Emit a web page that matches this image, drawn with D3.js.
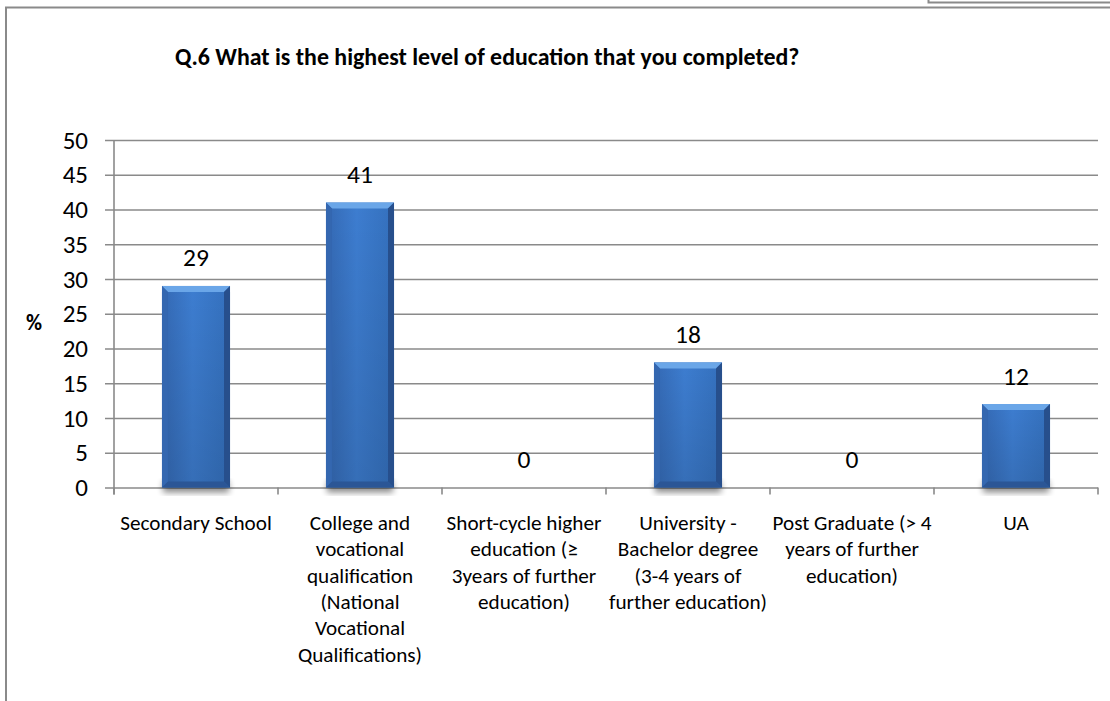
<!DOCTYPE html>
<html>
<head>
<meta charset="utf-8">
<script src="https://cdn.jsdelivr.net/npm/d3@7"></script>
<style>
  body { margin: 0; background: #ffffff; }
  svg text { font-family: Carlito, Calibri, Lato, "Open Sans", sans-serif; fill: #000; }
</style>
</head>
<body>
<svg id="chart" width="1110" height="701"></svg>
<script>
// Survey answers: highest completed level of education (% of respondents)
const chartTitle = "Q.6 What is the highest level of education that you completed?";
const yAxisTitle = "%";
const categories = [
  "Secondary School",
  "College and\nvocational\nqualification\n(National\nVocational\nQualifications)",
  "Short-cycle higher\neducation (\u2265\n3years of further\neducation)",
  "University -\nBachelor degree\n(3-4 years of\nfurther education)",
  "Post Graduate (> 4\nyears of further\neducation)",
  "UA"
];
const percentValues = [29, 41, 0, 18, 0, 12];
const yTickValues = [0, 5, 10, 15, 20, 25, 30, 35, 40, 45, 50];

const svg = d3.select("#chart");
const plot = { left: 114, right: 1098, top: 140, bottom: 487.5 };

const x = d3.scaleBand().domain(d3.range(categories.length)).range([plot.left, plot.right]).padding(0);
const y = d3.scaleLinear().domain([0, 50]).range([plot.bottom, plot.top]);

const gridColor = "#8a8a8a";

// Outer frame (left and top edges) and the neighbouring box above
svg.append("path").attr("d", "M6,701 V7.5 H1110").attr("fill", "none").attr("stroke", gridColor).attr("stroke-width", 2);
svg.append("path").attr("d", "M928.5,0 V2.5 H1110").attr("fill", "none").attr("stroke", gridColor).attr("stroke-width", 2);

// Title
svg.append("text").attr("x", 175).attr("y", 65)
  .attr("font-size", 23.9).attr("font-weight", "bold").text(chartTitle);

// Horizontal gridlines with y axis ticks
const yAxis = d3.axisLeft(y).tickValues(yTickValues).tickSize(plot.right - plot.left + 9).tickPadding(17);
const gy = svg.append("g").attr("transform", `translate(${plot.right},0)`).call(yAxis);
gy.select(".domain").remove();
gy.selectAll(".tick line").attr("stroke", gridColor).attr("stroke-width", 1.6);
gy.selectAll(".tick text").attr("font-size", 25).attr("font-family", "Carlito, Calibri, Lato, sans-serif").attr("fill", "#000");
gy.selectAll(".tick text").attr("x", -(plot.right - plot.left) - 26);

// Vertical axis line
svg.append("line").attr("x1", plot.left).attr("x2", plot.left).attr("y1", plot.top).attr("y2", plot.bottom + 7)
  .attr("stroke", gridColor).attr("stroke-width", 1.6);

// Category boundary ticks along the x axis
const boundaries = d3.range(categories.length + 1).map(i => i < categories.length ? x(i) : plot.right);
svg.append("g").selectAll("line").data(boundaries).join("line")
  .attr("x1", d => d).attr("x2", d => d).attr("y1", plot.bottom).attr("y2", plot.bottom + 7)
  .attr("stroke", gridColor).attr("stroke-width", 1.6);

// Y axis title
svg.append("text").attr("x", 34).attr("y", 330).attr("text-anchor", "middle")
  .attr("font-size", 22).attr("font-weight", "bold").text(yAxisTitle);

// Bar effects
const defs = svg.append("defs");
const grad = defs.append("linearGradient").attr("id", "barFill").attr("x1", 0).attr("x2", 1).attr("y1", 0).attr("y2", 0);
grad.append("stop").attr("offset", 0).attr("stop-color", "#3469b4");
grad.append("stop").attr("offset", 0.45).attr("stop-color", "#3d7dd0");
grad.append("stop").attr("offset", 1).attr("stop-color", "#3470bd");
const vgrad = defs.append("linearGradient").attr("id", "barShade").attr("x1", 0).attr("x2", 0).attr("y1", 0).attr("y2", 1);
vgrad.append("stop").attr("offset", 0).attr("stop-color", "#000").attr("stop-opacity", 0);
vgrad.append("stop").attr("offset", 1).attr("stop-color", "#000").attr("stop-opacity", 0.12);
const blur = defs.append("filter").attr("id", "barShadow").attr("x", "-30%").attr("y", "-30%").attr("width", "160%").attr("height", "160%");
blur.append("feGaussianBlur").attr("stdDeviation", 3.2);

const barWidth = x.bandwidth() * 0.415;
const bevel = 6;

const bars = svg.append("g").selectAll("g").data(percentValues.map((v, i) => ({ v, i })).filter(d => d.v > 0)).join("g")
  .attr("transform", d => `translate(${x(d.i) + (x.bandwidth() - barWidth) / 2},${y(d.v)})`);

bars.append("rect").attr("x", 1).attr("y", d => plot.bottom - y(d.v) - 6).attr("width", barWidth - 2).attr("height", 11)
  .attr("fill", "#000").attr("opacity", 0.45).attr("filter", "url(#barShadow)");

bars.append("rect").attr("width", barWidth).attr("height", d => plot.bottom - y(d.v)).attr("fill", "url(#barFill)");
bars.append("rect").attr("width", barWidth).attr("height", d => plot.bottom - y(d.v)).attr("fill", "url(#barShade)");

const w = barWidth, b = bevel;
// top bevel
bars.append("path").attr("d", () => `M0,0 H${w} L${w - b},${b} H${b} Z`).attr("fill", "#6aa6e8");
// left bevel
bars.append("path").attr("d", d => { const h = plot.bottom - y(d.v); return `M0,0 L${b},${b} V${h - b} L0,${h} Z`; }).attr("fill", "#3467b0");
// right bevel
bars.append("path").attr("d", d => { const h = plot.bottom - y(d.v); return `M${w},0 V${h} L${w - b},${h - b} V${b} Z`; }).attr("fill", "#274f8c");
// bottom bevel
bars.append("path").attr("d", d => { const h = plot.bottom - y(d.v); return `M0,${h} H${w} L${w - b},${h - b} H${b} Z`; }).attr("fill", "#2b5696");

// Value labels
svg.append("g").selectAll("text").data(percentValues).join("text")
  .attr("x", (d, i) => x(i) + x.bandwidth() / 2)
  .attr("y", d => y(d) - 19.5)
  .attr("text-anchor", "middle").attr("font-size", 25.5)
  .text(d => d3.format("d")(d));

// Category labels, one tspan per line
const catText = svg.append("g").selectAll("text").data(categories).join("text")
  .attr("x", (d, i) => x(i) + x.bandwidth() / 2)
  .attr("y", 530)
  .attr("text-anchor", "middle").attr("font-size", 21.2);
catText.selectAll("tspan").data(d => d.split("\n")).join("tspan")
  .attr("x", function () { return d3.select(this.parentNode).attr("x"); })
  .attr("dy", (d, j) => j === 0 ? 0 : 26.3)
  .text(d => d);
</script>
</body>
</html>
